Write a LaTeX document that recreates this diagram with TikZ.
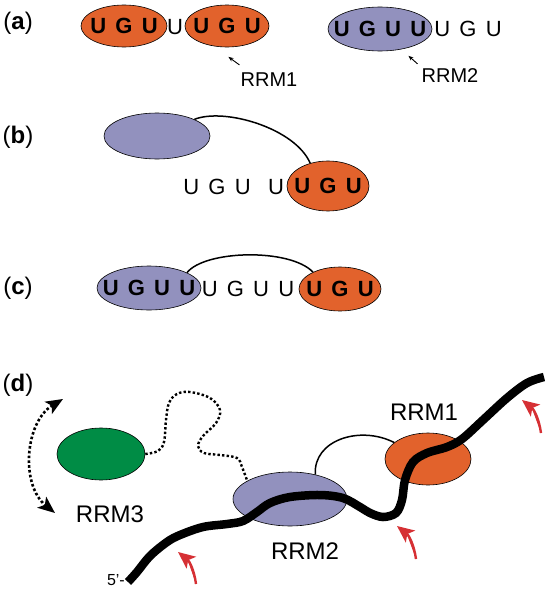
\documentclass[tikz,border=0pt]{standalone}
\usepackage{fontspec}
\setmainfont{Liberation Sans}
\usepackage{tikz}
\usetikzlibrary{shapes.geometric, arrows.meta, positioning, calc}
\usepackage{xcolor}
\definecolor{rrmOrange}{RGB}{226, 98, 44}
\definecolor{rrmPurple}{RGB}{146, 145, 190}
\definecolor{rrmGreen}{RGB}{0, 140, 69}
\definecolor{cutRed}{RGB}{214, 48, 52}
\newcommand{\ntg}{\hspace{0.42em}}

\begin{document}
\begin{tikzpicture}[
    x=1pt, y=-1pt,
    % Domain styles
    domain/.style={
        ellipse,
        draw=black,
        line width=0.6pt,
        fill=#1,
        inner sep=0pt,
        font=\fontsize{22}{26}\selectfont\bfseries
    },
    % Nucleotide text
    nt/.style={
        inner sep=0pt,
        font=\fontsize{22}{26}\selectfont
    },
    % Panel and domain labels
    panel/.style={
        inner sep=0pt,
        font=\fontsize{24}{28}\selectfont
    },
    rrmname/.style={
        inner sep=0pt,
        font=\fontsize{#1}{#1}\selectfont
    },
    % Connector styles
    pointer/.style={
        ->,
        >={Stealth[length=5pt, width=4pt]},
        line width=0.9pt
    },
    tether/.style={
        line width=1.5pt
    },
    linker/.style={
        line width=2.4pt,
        dash pattern=on 2.4pt off 2.2pt
    },
    swing/.style={
        line width=2.6pt,
        dash pattern=on 2.6pt off 2.2pt,
        {Stealth[length=17pt, width=14pt, inset=4pt]}-{Stealth[length=17pt, width=14pt, inset=4pt]}
    },
    rna/.style={
        line width=8.5pt,
        line cap=butt
    },
    cut/.style={
        -{Stealth[length=17pt, width=15pt, inset=4pt]},
        line width=2.4pt,
        draw=cutRed,
        fill=cutRed
    }
]
\useasboundingbox (0,0) rectangle (544,589);

% ============================================
% PANEL (a)
% ============================================
\node[panel] (laba) at (18,23) {(\textbf{a})};

\node[domain=rrmOrange, minimum width=86pt, minimum height=42pt] (a1) at (124,26)
    {\makebox[0pt]{U\ntg G\ntg U}};
\node[nt] (aspacer) at (175,27) {U};
\node[domain=rrmOrange, minimum width=84pt, minimum height=42pt] (a2) at (227,26)
    {\makebox[0pt]{U\ntg G\ntg U}};

\node[domain=rrmPurple, minimum width=104pt, minimum height=44pt] (a3) at (380,29)
    {\makebox[0pt]{U\ntg G\ntg U\ntg U}};
\node[nt] (atail) at (468,29) {U\ntg G\ntg U};

\node[rrmname=20] (ra1) at (269,80) {RRM1};
\node[rrmname=20] (ra2) at (450,76) {RRM2};

\draw[pointer] ([shift={(-1,-8)}]ra1.north west) -- ++(-11,-8);
\draw[pointer] ([shift={(-4,-5)}]ra2.north west) -- ++(-9,-8);

% ============================================
% PANEL (b)
% ============================================
\node[panel] (labb) at (18,137) {(\textbf{b})};

\node[domain=rrmPurple, minimum width=106pt, minimum height=46pt] (b2) at (157,136) {};
\node[domain=rrmOrange, minimum width=82pt, minimum height=50pt] (b1) at (328,186)
    {\makebox[0pt]{U\ntg G\ntg U}};

\node[nt] (bfree) at (217,187) {U\ntg G\ntg U};
\node[nt] (bspacer) at (276,187) {U};

\draw[tether] (b2.24) .. controls +(30,-12) and +(-15,-35) .. (b1.128);

% ============================================
% PANEL (c)
% ============================================
\node[panel] (labc) at (18,288) {(\textbf{c})};

\node[domain=rrmPurple, minimum width=104pt, minimum height=44pt] (c2) at (149,288)
    {\makebox[0pt]{U\ntg G\ntg U\ntg U}};
\node[nt] (cmid) at (248,289) {U\ntg G\ntg U\ntg U};
\node[domain=rrmOrange, minimum width=82pt, minimum height=44pt] (c1) at (340,289)
    {\makebox[0pt]{U\ntg G\ntg U}};

\draw[tether] (c2.22) .. controls (205,250) and (290,248) .. (c1.148);

% ============================================
% PANEL (d)
% ============================================
\node[panel] (labd) at (18,385) {(\textbf{d})};

\node[domain=rrmGreen, minimum width=88pt, minimum height=52pt] (d3) at (101,454) {};
\node[domain=rrmPurple, minimum width=114pt, minimum height=54pt] (d2) at (290,499) {};
\node[domain=rrmOrange, minimum width=86pt, minimum height=52pt] (d1) at (428,459) {};

\node[rrmname=24] (rd3) at (110,514) {RRM3};
\node[rrmname=24] (rd2) at (305,551) {RRM2};
\node[rrmname=24] (rd1) at (424,412) {RRM1};

% RRM2 -- RRM1 linker
\draw[tether] (d2.44) .. controls (313,440) and (360,425) .. (d1.154);

% flexible RRM3 linker
\draw[linker] plot[smooth, tension=0.6] coordinates {
    (d3.east) (158,451) (164,442) (166,420) (169,403) (177,394) (190,392)
    (210,398) (220,410) (216,423) (203,436) (198,446) (204,453) (220,455)
    (237,458) (242,467) (d2.157)};

% swinging motion of RRM3
\coordinate (swingtop) at (63,399);
\coordinate (swingbot) at (55,513);
\draw[swing] (swingtop) to[bend right=55] (swingbot);

% RNA strand
\coordinate (five) at (128,582);
\coordinate (three) at (544,377);
\draw[rna] plot[smooth, tension=0.55] coordinates {
    (five) (137,572) (150,556) (167,542) (180,535) (203,527) (227,524)
    (243,521) (257,512) (270,503) (290,497) (320,495) (343,498) (360,507)
    (370,513) (383,517) (396,513) (402,500) (405,480) (413,462) (427,453)
    (447,447) (462,439) (483,420) (507,398) (527,383) (three)};
\node[rrmname=16, anchor=east] (fivelab) at ([xshift=-3pt, yshift=2pt]five) {5'-};

% cleavage sites
\coordinate (cuta) at (196,584);
\coordinate (cutb) at (416,559);
\coordinate (cutc) at (541,433);
\draw[cut] (cuta) to[bend right=22] (178,552);
\draw[cut] (cutb) to[bend right=22] (397,526);
\draw[cut] (cutc) to[bend right=22] (522,400);

\end{tikzpicture}
\end{document}
